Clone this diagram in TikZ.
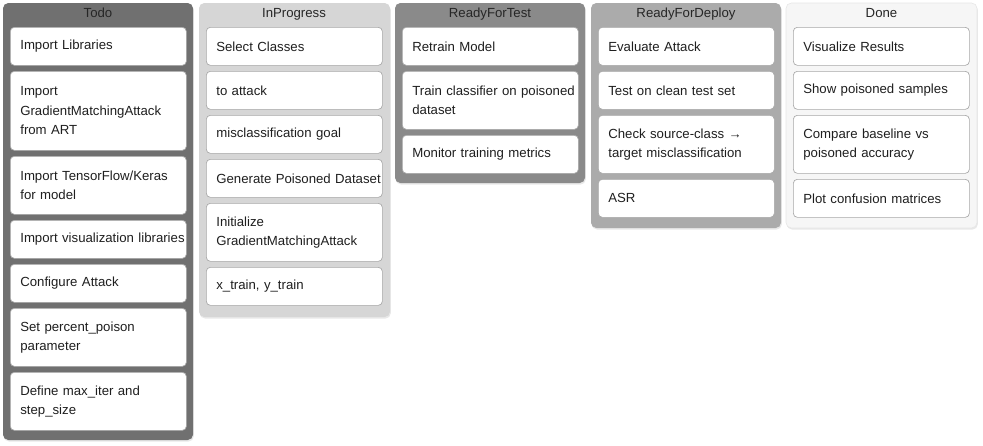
\documentclass[tikz,border=0pt]{standalone}
\usepackage{fontspec}
\setmainfont{Liberation Sans}
\usetikzlibrary{shadows}

\definecolor{todofill}{HTML}{707070}
\definecolor{progfill}{HTML}{D6D6D6}
\definecolor{testfill}{HTML}{8A8A8A}
\definecolor{deployfill}{HTML}{ABABAB}
\definecolor{donefill}{HTML}{F6F6F6}
\definecolor{cardline}{HTML}{A8A8A8}

\begin{document}
\begin{tikzpicture}[x=0.75pt,y=-0.75pt,
    lane/.style={rounded corners=4pt, drop shadow={opacity=0.18, shadow xshift=0.6pt, shadow yshift=-1.2pt}},
    title/.style={anchor=base, text=black!85, font=\fontsize{9.9}{12}\selectfont},
    card/.style={draw=cardline, line width=0.5pt, fill=white, rounded corners=3pt, anchor=north west,
        minimum width=132pt, minimum height=#1, text width=132pt, inner xsep=0pt, inner ysep=0pt,
        align=left, text=black!88, font=\fontsize{9.9}{14.5}\selectfont,
        execute at begin node={\hyphenpenalty=10000\leftskip=7.5pt}},
    card/.default=28.5pt]
    \useasboundingbox (0,0) rectangle (983,446);
    % lanes
    \path[lane, fill=todofill] (3,3) rectangle (193,440);
    \path[lane, fill=progfill] (199,3) rectangle (390,317);
    \path[lane, fill=testfill] (395,3) rectangle (585,183);
    \path[lane, fill=deployfill] (591,3) rectangle (781,228);
    \path[lane, fill=donefill, draw=black!10] (786,3) rectangle (977,228);
    \node[title] (todo) at (98,17.5) {Todo};
    \node[title] (prog) at (294,17.5) {InProgress};
    \node[title] (test) at (490,17.5) {ReadyForTest};
    \node[title] (deploy) at (686,17.5) {ReadyForDeploy};
    \node[title] (done) at (881.5,17.5) {Done};
    % Todo
    \node[card] (todoLib) at (10,27) {Import Libraries};
    \node[card=59.25pt] (todoArt) at (10,71) {Import\\GradientMatchingAttack\\from ART};
    \node[card=43.5pt] (todoTf) at (10,156) {Import TensorFlow/Keras\\for model};
    \node[card] (todoVis) at (10,220) {Import visualization libraries};
    \node[card] (todoCfg) at (10,264) {Configure Attack};
    \node[card=43.5pt] (todoPct) at (10,308) {Set percent\_poison\\parameter};
    \node[card=43.5pt] (todoIter) at (10,372) {Define max\_iter and\\step\_size};
    % InProgress
    \node[card] (progSel) at (206,27) {Select Classes};
    \node[card] (progAtk) at (206,71) {to attack};
    \node[card] (progGoal) at (206,115) {misclassification goal};
    \node[card] (progGen) at (206,159) {Generate Poisoned Dataset};
    \node[card=43.5pt] (progInit) at (206,203) {Initialize\\GradientMatchingAttack};
    \node[card] (progXy) at (206,267) {x\_train, y\_train};
    % ReadyForTest
    \node[card] (testRe) at (402,27) {Retrain Model};
    \node[card=43.5pt] (testTrain) at (402,71) {Train classifier on poisoned\\dataset};
    \node[card] (testMon) at (402,135) {Monitor training metrics};
    % ReadyForDeploy
    \node[card] (depEval) at (598,27) {Evaluate Attack};
    \node[card] (depClean) at (598,71) {Test on clean test set};
    \node[card=43.5pt] (depCheck) at (598,115) {Check source-class →\\target misclassification};
    \node[card] (depAsr) at (598,179) {ASR};
    % Done
    \node[card] (doneVis) at (793,27) {Visualize Results};
    \node[card] (doneShow) at (793,71) {Show poisoned samples};
    \node[card=43.5pt] (doneCmp) at (793,115) {Compare baseline vs\\poisoned accuracy};
    \node[card] (donePlot) at (793,179) {Plot confusion matrices};
\end{tikzpicture}
\end{document}
